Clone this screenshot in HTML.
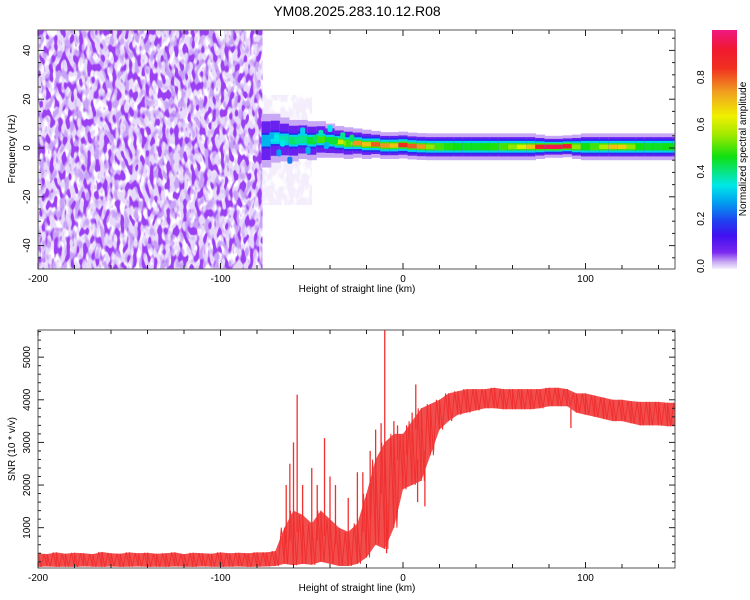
<!DOCTYPE html>
<html><head><meta charset="utf-8">
<style>
html,body{margin:0;padding:0;background:#fff;}
svg{display:block;font-family:"Liberation Sans",sans-serif;}
</style></head>
<body>
<svg id="root" width="750" height="600" viewBox="0 0 750 600" xmlns="http://www.w3.org/2000/svg">
<defs>
  <filter id="noiseDark" x="0" y="0" width="1" height="1">
    <feTurbulence type="fractalNoise" baseFrequency="0.24 0.11" numOctaves="1" seed="3"/>
    <feColorMatrix type="matrix" values="0 0 0 0 0.33  0 0 0 0 0.05  0 0 0 0 0.90  9 0 0 0 -4.6"/>
  </filter>
  <filter id="noiseMid" x="0" y="0" width="1" height="1">
    <feTurbulence type="fractalNoise" baseFrequency="0.2 0.1" numOctaves="1" seed="7"/>
    <feColorMatrix type="matrix" values="0 0 0 0 0.58  0 0 0 0 0.36  0 0 0 0 0.93  7 0 0 0 -3.4"/>
  </filter>
  <filter id="noiseLight" x="0" y="0" width="1" height="1">
    <feTurbulence type="fractalNoise" baseFrequency="0.16 0.08" numOctaves="2" seed="11"/>
    <feColorMatrix type="matrix" values="0 0 0 0 0.80  0 0 0 0 0.70  0 0 0 0 0.96  6 0 0 0 -2.1"/>
  </filter>
  <linearGradient id="cbgrad" x1="0" y1="1" x2="0" y2="0">
    <stop offset="0" stop-color="#f4f0fc"/>
    <stop offset="0.03" stop-color="#c8a8f4"/>
    <stop offset="0.07" stop-color="#7a28f0"/>
    <stop offset="0.14" stop-color="#4010f0"/>
    <stop offset="0.2" stop-color="#2040f0"/>
    <stop offset="0.28" stop-color="#00a0f0"/>
    <stop offset="0.35" stop-color="#00e8e8"/>
    <stop offset="0.47" stop-color="#10e010"/>
    <stop offset="0.56" stop-color="#a0e800"/>
    <stop offset="0.64" stop-color="#f0f000"/>
    <stop offset="0.74" stop-color="#f0a020"/>
    <stop offset="0.84" stop-color="#f03020"/>
    <stop offset="0.92" stop-color="#f01830"/>
    <stop offset="1" stop-color="#f01880"/>
  </linearGradient>
  <clipPath id="clipTop"><rect x="38" y="30" width="637" height="239"/></clipPath>
  <clipPath id="clipBot"><rect x="38" y="330" width="637" height="238"/></clipPath>
</defs>
<text x="357" y="16" font-size="14" text-anchor="middle">YM08.2025.283.10.12.R08</text>
<g id="topPanel"></g>
<g id="botPanel"></g>
<g id="cbPanel"></g>
</svg>
<script>
// ---- data ----
const xTicks = [-200, -100, 0, 100];
const freqTicks = [-40, -20, 0, 20, 40];
const snrTicks = [1000, 2000, 3000, 4000, 5000];
const cbTicks = [0.0, 0.2, 0.4, 0.6, 0.8];
const cbTickLabels = ["0.0", "0.2", "0.4", "0.6", "0.8"];

const bandKm = [-75,-70,-65,-60,-55,-50,-45,-40,-35,-30,-25,-20,-15,-10,-5,0,5,10,15,20,25,30,35,40,45,50,55,60,65,70,75,80,85,90,95,100,105,110,115,120,125,130,135,140,145,150];
const bandCenter = [3,4,3.5,3,3.5,3,3.5,3,2.5,2,2,1.5,1.5,1,1,1.2,0.8,0.6,0.5,0.5,0.5,0.5,0.5,0.5,0.5,0.5,0.5,0.5,0.5,0.5,0.5,0.5,0.5,0.7,0.5,0.5,0.5,0.5,0.5,0.5,0.5,0.5,0.5,0.5,0.5,0.5];
const bandHalf = [11,10,9,8.5,8,8,7.5,7,6.5,6.5,6,6,5.5,5.5,5.5,5.5,5.5,5.5,5.5,5.5,5.5,5.5,5.5,5.5,5.5,5.5,5.5,5.5,5.5,5.5,5,4.5,4.5,4.5,5,5.5,5.5,5.5,5.5,5.5,5.5,5.5,5.5,5.5,5.5,5.5];
const bandAmp = [0.3,0.35,0.38,0.42,0.4,0.45,0.5,0.45,0.6,0.55,0.75,0.7,0.8,0.75,0.7,0.85,0.8,0.75,0.55,0.5,0.48,0.47,0.46,0.46,0.47,0.48,0.5,0.55,0.62,0.7,0.88,0.95,0.95,0.9,0.55,0.47,0.5,0.58,0.7,0.68,0.55,0.47,0.46,0.46,0.47,0.47];
const patchKm = [-72,-68,-66,-62,-58,-55,-52,-48,-45,-42,-40,-37,-33,-30,-28];
const patchHz = [5,-2,2,-5,3,7,-1,4,6,1,8,3,5,2,4];
const patchAmp = [0.3,0.28,0.35,0.25,0.4,0.33,0.3,0.42,0.38,0.3,0.35,0.45,0.4,0.5,0.42];

const snrKm = [-200,-195,-190,-185,-180,-175,-170,-165,-160,-155,-150,-145,-140,-135,-130,-125,-120,-115,-110,-105,-100,-95,-90,-85,-80,-75,-70,-65,-60,-55,-50,-45,-40,-35,-30,-25,-20,-15,-10,-5,0,5,10,15,20,25,30,35,40,45,50,55,60,65,70,75,80,85,90,95,100,105,110,115,120,125,130,135,140,145,150];
const snrLow = [80,90,80,85,80,90,85,80,90,80,85,90,80,85,80,90,85,80,90,85,80,85,90,80,85,90,100,150,120,150,130,200,150,100,100,150,300,600,500,1000,1900,2000,2100,2700,3300,3500,3650,3700,3750,3800,3800,3780,3780,3780,3780,3800,3850,3850,3850,3700,3650,3600,3550,3500,3500,3450,3400,3400,3400,3380,3380];
const snrHigh = [400,380,420,390,410,400,380,430,400,390,420,400,410,390,400,420,380,410,400,390,420,400,410,400,420,420,450,1000,1400,1300,1100,1400,1200,1000,900,1100,1800,2600,3000,3200,3200,3500,3800,3900,4000,4150,4200,4250,4250,4250,4280,4250,4250,4250,4250,4250,4280,4280,4250,4150,4150,4100,4050,4000,4000,3970,3950,3950,3950,3930,3930];
const spikeKm = [-64,-62,-60,-58,-55,-50,-47,-43,-40,-37,-30,-25,-22,-18,-15,-12,-10,-9,-5,-3,2,5,7,8,12,92];
const spikeFrom = [600,700,800,900,800,700,700,800,700,600,500,600,900,1200,1500,1800,2000,1600,2400,2600,2700,3000,3300,2600,2800,3800];
const spikeVal = [2000,2500,3000,4120,2000,2400,2000,3100,2200,2000,1700,2300,2300,2800,3300,3450,5650,400,3500,3400,3400,3700,4360,1600,1500,3340];

const X = km => 403 + (km) * 1.825;
const YF = hz => 148 - hz * 2.44;
const YS = v => 570.3 - v * 0.04263;
const YC = v => 266 - v * 236;
const NS = "http://www.w3.org/2000/svg";
function mk(tag, attrs, parent){const e=document.createElementNS(NS,tag);for(const k in attrs)e.setAttribute(k,attrs[k]);parent.appendChild(e);return e;}

function cmap(v){
  const st=[[0,[244,240,252]],[0.03,[200,168,244]],[0.07,[122,40,240]],[0.14,[64,16,240]],[0.2,[32,64,240]],[0.28,[0,160,240]],[0.35,[0,232,232]],[0.47,[16,224,16]],[0.56,[160,232,0]],[0.64,[240,240,0]],[0.74,[240,160,32]],[0.84,[240,48,32]],[0.92,[240,24,48]],[1,[240,24,128]]];
  v=Math.max(0,Math.min(1,v));
  for(let i=1;i<st.length;i++){if(v<=st[i][0]){const a=st[i-1],b=st[i];const t=(v-a[0])/(b[0]-a[0]);const c=a[1].map((x,j)=>Math.round(x+(b[1][j]-x)*t));return `rgb(${c[0]},${c[1]},${c[2]})`;}}
  return "rgb(240,24,128)";
}

// ---- top panel ----
const topP=document.getElementById('topPanel');
const tg=mk('g',{'clip-path':'url(#clipTop)'},topP);
const nW = X(-77)-38;
const nl=mk('rect',{x:38,y:30,width:nW,height:239,fill:'#fff',filter:'url(#noiseLight)'},tg);


const nm=mk('rect',{x:38,y:30,width:nW,height:239,fill:'#fff',filter:'url(#noiseMid)'},tg);


const nd=mk('rect',{x:38,y:30,width:nW,height:239,fill:'#fff',filter:'url(#noiseDark)'},tg);


const nf=mk('rect',{x:X(-77),y:95,width:X(-50)-X(-77),height:110,fill:'#fff',filter:'url(#noiseLight)',opacity:0.45},tg);


const colW = 5*1.825;
for(let i=0;i<bandKm.length;i++){
  const cx=X(bandKm[i])-colW/2, c=bandCenter[i], h=bandHalf[i], a=bandAmp[i];
  const layers=[[h,0.03],[h*0.72,0.09],[Math.min(3.2,h*0.6),0.17],[Math.min(2.4,h*0.45),Math.min(a,0.33)],[1.5,Math.min(a,0.5)],[0.9,a]];
  const g=mk('g',{},tg);
  
  
  for(const [hw,v] of layers){
    mk('rect',{x:cx.toFixed(2),y:YF(c+hw).toFixed(2),width:(colW+0.6).toFixed(2),height:(hw*2*2.44).toFixed(2),fill:cmap(v)},g);
  }
}
for(let i=0;i<patchKm.length;i++){
  const p=mk('rect',{x:X(patchKm[i])-2.5,y:YF(patchHz[i])-3.5,width:5,height:7,rx:2,fill:cmap(patchAmp[i])},tg);
  
  
}
function frame(parent,y0,y1){
  mk('rect',{x:38,y:y0,width:637,height:y1-y0,fill:'none',stroke:'#555',"stroke-width":1},parent);
  for(let km=-200;km<=150;km+=20){
    const x=X(km);const L=(km%100===0)?6:4;
    mk('line',{x1:x,y1:y0,x2:x,y2:y0+L,stroke:'#222'},parent);
    mk('line',{x1:x,y1:y1,x2:x,y2:y1-L,stroke:'#222'},parent);
  }
  for(const t of xTicks){
    const tx=mk('text',{x:X(t),y:y1+13,'font-size':10,'text-anchor':'middle'},parent);tx.textContent=t;
    
    
  }
  const xl=mk('text',{x:357,y:y1+23,'font-size':10,'text-anchor':'middle'},parent);xl.textContent='Height of straight line (km)';
  
  
}
frame(topP,30,269);
for(let hz=-45;hz<=45;hz+=5){
  const y=YF(hz);const L=(hz%20===0)?6:3;
  mk('line',{x1:38,y1:y,x2:38+L,y2:y,stroke:'#222'},topP);
  mk('line',{x1:675,y1:y,x2:675-L,y2:y,stroke:'#222'},topP);
}
for(const t of freqTicks){
  const tx=mk('text',{x:0,y:0,'font-size':10,'text-anchor':'middle',transform:`translate(30,${YF(t)}) rotate(-90)`},topP);tx.textContent=t;
  
  
}
const yl=mk('text',{x:0,y:0,'font-size':10,'text-anchor':'middle',transform:'translate(15,149) rotate(-90)'},topP);yl.textContent='Frequency (Hz)';



// ---- bottom panel ----
const botP=document.getElementById('botPanel');
const bg=mk('g',{'clip-path':'url(#clipBot)'},botP);
let pts=[];
for(let i=0;i<snrKm.length;i++)pts.push(`${X(snrKm[i]).toFixed(1)},${YS(snrHigh[i]).toFixed(1)}`);
for(let i=snrKm.length-1;i>=0;i--)pts.push(`${X(snrKm[i]).toFixed(1)},${YS(snrLow[i]).toFixed(1)}`);
const area=mk('polygon',{points:pts.join(' '),fill:'#f03434',opacity:0.88},bg);


let zz=[];
for(let i=0;i<snrKm.length-1;i++){
  const x0=X(snrKm[i]),x1=X(snrKm[i+1]);
  zz.push(`${x0.toFixed(1)},${YS(snrHigh[i]).toFixed(1)}`);
  zz.push(`${((x0*2+x1)/3).toFixed(1)},${YS(snrLow[i]).toFixed(1)}`);
  zz.push(`${((x0+x1*2)/3).toFixed(1)},${YS(snrHigh[i+1]).toFixed(1)}`);
  zz.push(`${x1.toFixed(1)},${YS(snrLow[i+1]).toFixed(1)}`);
}
const line=mk('polyline',{points:zz.join(' '),fill:'none',stroke:'#f03030','stroke-width':1},bg);


for(let i=0;i<spikeKm.length;i++){
  const x=X(spikeKm[i]);
  const s=mk('line',{x1:x,y1:YS(spikeFrom[i]),x2:x,y2:YS(spikeVal[i]),stroke:'#f03030','stroke-width':1.3},bg);
  
  
}
frame(botP,330,568);
for(let v=200;v<=5600;v+=200){
  const y=YS(v);const L=(v%1000===0)?6:3;
  mk('line',{x1:38,y1:y,x2:38+L,y2:y,stroke:'#222'},botP);
  mk('line',{x1:675,y1:y,x2:675-L,y2:y,stroke:'#222'},botP);
}
for(const t of snrTicks){
  const tx=mk('text',{x:0,y:0,'font-size':10,'text-anchor':'middle',transform:`translate(30,${YS(t)}) rotate(-90)`},botP);tx.textContent=t;
  
  
}
const yl2=mk('text',{x:0,y:0,'font-size':10,'text-anchor':'middle',transform:'translate(15,449) rotate(-90)'},botP);yl2.textContent='SNR (10 * v/v)';



// ---- colorbar ----
const cbP=document.getElementById('cbPanel');
const bar=mk('rect',{x:712,y:30,width:25,height:239,fill:'url(#cbgrad)'},cbP);


for(let i=0;i<cbTicks.length;i++){
  const tx=mk('text',{x:0,y:0,'font-size':10,'text-anchor':'middle',transform:`translate(704,${YC(cbTicks[i])}) rotate(-90)`},cbP);tx.textContent=cbTickLabels[i];
  
  
}
const cbl=mk('text',{x:0,y:0,'font-size':10,'text-anchor':'middle',transform:'translate(746,149) rotate(-90)'},cbP);cbl.textContent='Normalized spectral amplitude';


</script>
</body></html>
